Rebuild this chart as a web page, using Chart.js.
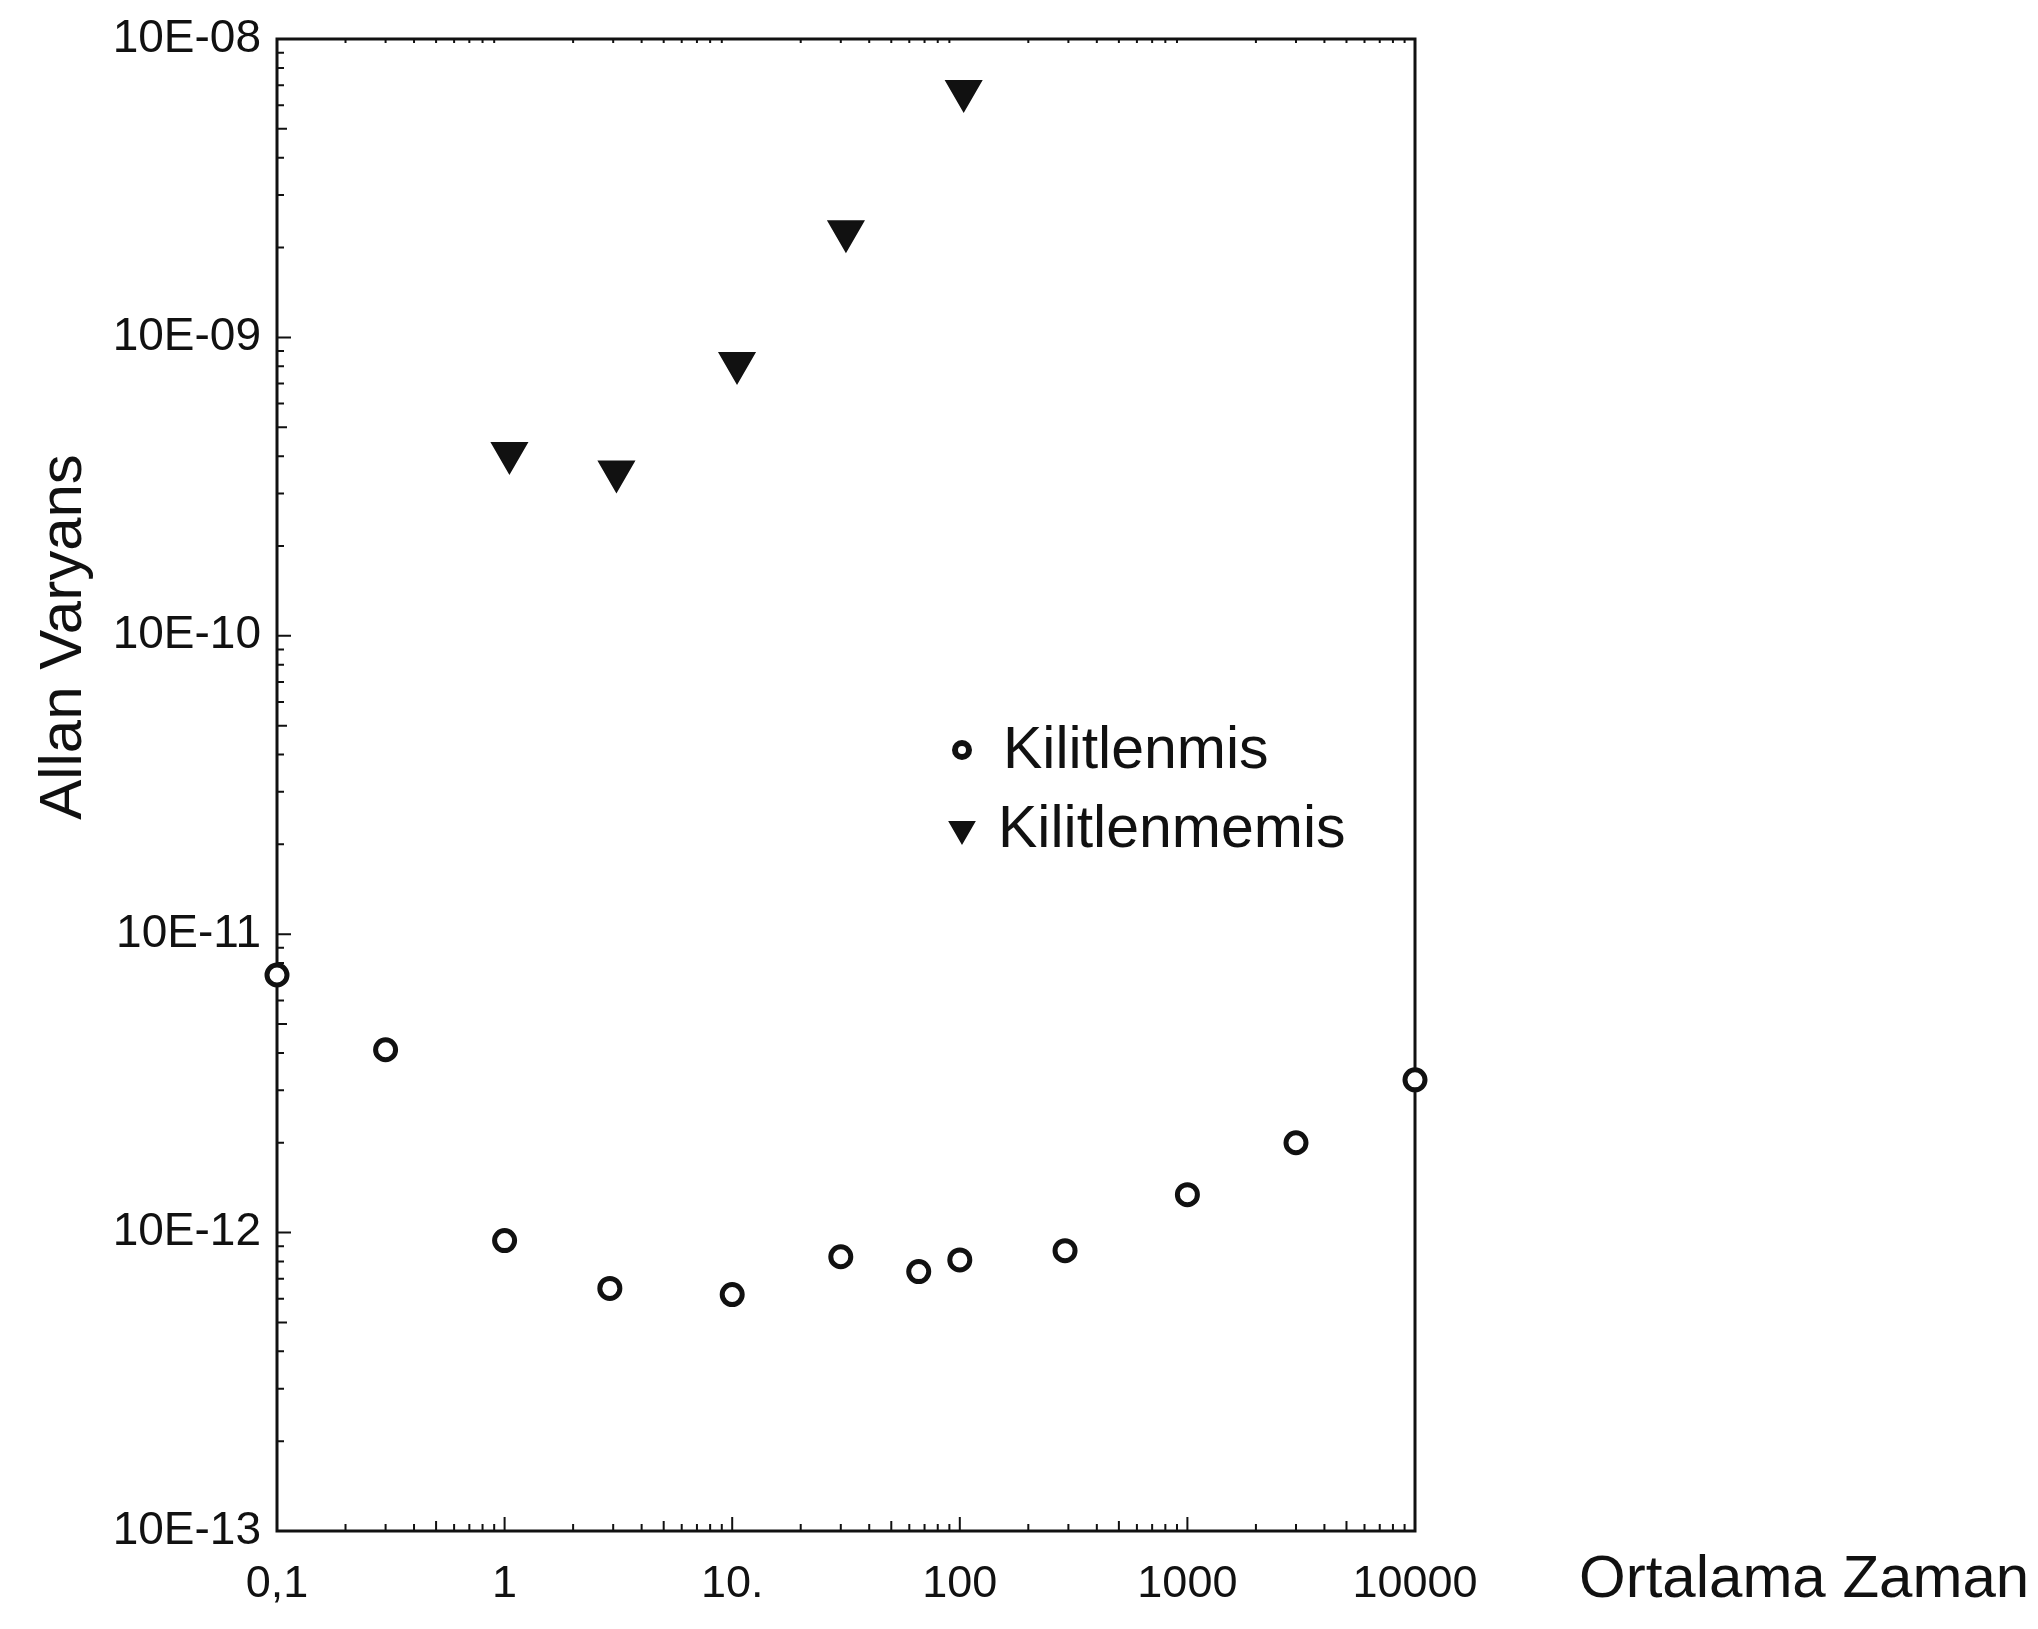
<!DOCTYPE html>
<html>
<head>
<meta charset="utf-8">
<title>Allan Varyans</title>
<script src="https://cdn.jsdelivr.net/npm/chart.js@4.4.1/dist/chart.umd.min.js"></script>
<style>
    html, body { margin: 0; padding: 0; background: #fff; }
    #wrap { width: 2038px; height: 1629px; }
</style>
</head>
<body>
<div id="wrap"><canvas id="allanChart" width="2038" height="1629"></canvas></div>
<script>
// Ortalama zaman (s) / Allan varyans degerleri
const lockedTau = [0.1, 0.3, 1, 2.9, 10, 30, 66, 100, 290, 1000, 3000, 10000];
const lockedVar = [7.3e-12, 4.1e-12, 9.4e-13, 6.5e-13, 6.2e-13, 8.3e-13, 7.4e-13, 8.1e-13, 8.7e-13, 1.34e-12, 2.0e-12, 3.25e-12];
const unlockedTau = [1.05, 3.1, 10.5, 31.6, 104];
const unlockedVar = [4.1e-10, 3.55e-10, 8.2e-10, 2.27e-9, 6.7e-9];

const seriesNames = ['Kilitlenmis', 'Kilitlenmemis'];
const xTicks = [0.1, 1, 10, 100, 1000, 10000];
const xTickLabels = ['0,1', '1', '10.', '100', '1000', '10000'];
const yTicks = [1e-13, 1e-12, 1e-11, 1e-10, 1e-9, 1e-8];
const yTickLabels = ['10E-13', '10E-12', '10E-11', '10E-10', '10E-09', '10E-08'];
const xTitle = 'Ortalama Zaman';
const yTitle = 'Allan Varyans';

const FONT = "'Liberation Sans', Arial, sans-serif";
const INK = '#111';

function toPoints(xs, ys) {
    return xs.map((x, i) => ({ x: x, y: ys[i] }));
}

// frame + inward log ticks, drawn under the markers
const frameTicks = {
    id: 'frameTicks',
    beforeDatasetsDraw(chart) {
        const { ctx, chartArea: a, scales: { x, y } } = chart;
        ctx.save();
        ctx.strokeStyle = INK;
        ctx.lineWidth = 3;
        ctx.strokeRect(a.left, a.top, a.right - a.left, a.bottom - a.top);

        ctx.lineWidth = 2;
        ctx.beginPath();
        for (let d = 0; d < xTicks.length; d++) {
            for (let m = 1; m <= 9; m++) {
                const v = xTicks[d] * m;
                if (v > xTicks[xTicks.length - 1]) break;
                const px = x.getPixelForValue(v);
                const len = m === 1 ? 14 : (m === 5 ? 10 : 7);
                ctx.moveTo(px, a.bottom);
                ctx.lineTo(px, a.bottom - len);
                if (m > 1) {
                    ctx.moveTo(px, a.top);
                    ctx.lineTo(px, a.top + 4);
                }
            }
        }
        for (let d = 0; d < yTicks.length; d++) {
            for (let m = 1; m <= 9; m++) {
                const v = yTicks[d] * m;
                if (v > yTicks[yTicks.length - 1] * 1.0001) break;
                const py = y.getPixelForValue(v);
                const len = m === 1 ? 14 : (m === 5 ? 10 : 7);
                ctx.moveTo(a.left, py);
                ctx.lineTo(a.left + len, py);
            }
        }
        ctx.stroke();
        ctx.restore();
    }
};

// axis titles and the in-plot legend
const titlesLegend = {
    id: 'titlesLegend',
    afterDraw(chart) {
        const { ctx } = chart;
        ctx.save();
        ctx.fillStyle = INK;

        ctx.font = '60px ' + FONT;
        ctx.textAlign = 'center';
        ctx.textBaseline = 'middle';
        ctx.translate(64, 637);
        ctx.rotate(-Math.PI / 2);
        ctx.fillText(yTitle, 0, 0);
        ctx.setTransform(1, 0, 0, 1, 0, 0);

        ctx.font = '60px ' + FONT;
        ctx.textAlign = 'left';
        ctx.fillText(xTitle, 1579, 1580);

        const rows = [{ x: 962, y: 750, tx: 1003 }, { x: 962, y: 829, tx: 998 }];
        ctx.font = '59px ' + FONT;
        chart.data.datasets.forEach((ds, i) => {
            const r = rows[i];
            ctx.fillStyle = ds.backgroundColor;
            ctx.strokeStyle = ds.borderColor;
            ctx.lineWidth = i === 0 ? 6 : ds.borderWidth;
            Chart.helpers.drawPoint(ctx, {
                pointStyle: ds.pointStyle,
                rotation: ds.pointRotation,
                radius: i === 0 ? 7 : 14,
                borderWidth: ctx.lineWidth
            }, r.x, r.y);
            ctx.fillStyle = INK;
            ctx.fillText(ds.label, r.tx, r.y + 2);
        });
        ctx.restore();
    }
};

new Chart(document.getElementById('allanChart'), {
    type: 'scatter',
    data: {
        datasets: [{
            label: seriesNames[0],
            data: toPoints(lockedTau, lockedVar),
            pointStyle: 'circle',
            pointRadius: 10,
            pointRotation: 0,
            backgroundColor: '#fff',
            borderColor: INK,
            borderWidth: 5,
            clip: false
        }, {
            label: seriesNames[1],
            data: toPoints(unlockedTau, unlockedVar),
            pointStyle: 'triangle',
            pointRadius: 20,
            pointRotation: 180,
            backgroundColor: INK,
            borderColor: INK,
            borderWidth: 2,
            clip: false
        }]
    },
    options: {
        responsive: false,
        animation: false,
        devicePixelRatio: 1,
        layout: { padding: { left: 0, top: 39, right: 623, bottom: 0 } },
        plugins: {
            legend: { display: false },
            tooltip: { enabled: false },
            title: { display: false }
        },
        scales: {
            x: {
                type: 'logarithmic',
                min: 0.1,
                max: 10000,
                grid: { display: false },
                border: { display: false },
                afterBuildTicks: (scale) => { scale.ticks = xTicks.map(v => ({ value: v })); },
                afterFit: (scale) => { scale.height = 98; },
                ticks: {
                    autoSkip: false,
                    maxRotation: 0,
                    padding: 19,
                    color: INK,
                    font: { family: FONT, size: 45 },
                    callback: (v, i) => xTickLabels[i]
                }
            },
            y: {
                type: 'logarithmic',
                min: 1e-13,
                max: 1e-8,
                grid: { display: false },
                border: { display: false },
                afterBuildTicks: (scale) => { scale.ticks = yTicks.map(v => ({ value: v })); },
                afterFit: (scale) => { scale.width = 277; },
                ticks: {
                    autoSkip: false,
                    padding: 8,
                    color: INK,
                    font: { family: FONT, size: 46 },
                    callback: (v, i) => yTickLabels[i]
                }
            }
        }
    },
    plugins: [frameTicks, titlesLegend]
});
</script>
</body>
</html>
